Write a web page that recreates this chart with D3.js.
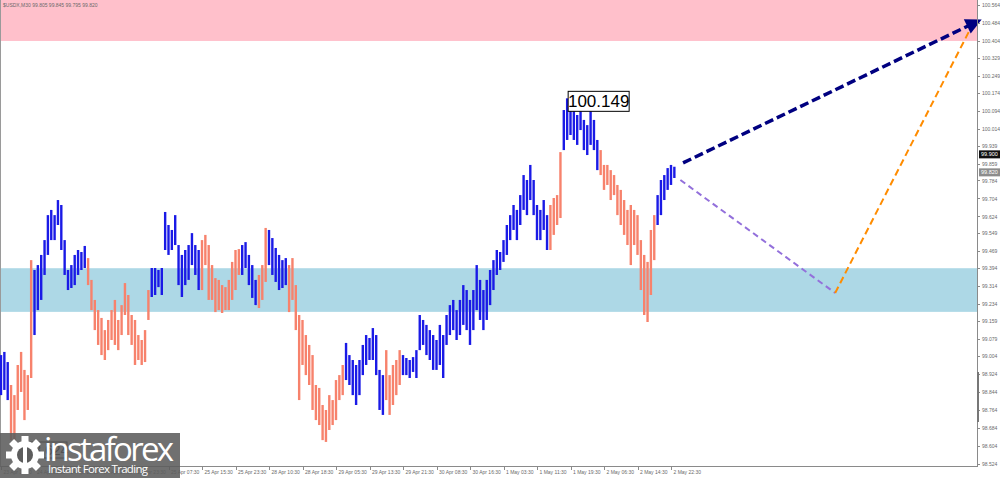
<!DOCTYPE html>
<meta charset="utf-8">
<style>
body { margin: 0; background: #fff; }
svg { display: block; font-family: "Liberation Sans", Arial, sans-serif; }
.axis path, .axis line { stroke: #8a8a8a; shape-rendering: crispEdges; }
.axis text { fill: #6a6a6a; font-size: 5px; }
</style>
<body>
<script src="https://d3js.org/d3.v7.min.js"></script>
<script>

// bar highs / lows (M30 bars)
var highs = [
  99.008, 99.022, 98.977, 98.875, 98.830, 98.964, 99.022, 98.942, 98.919, 99.430,
  99.386, 99.408, 99.453, 99.519, 99.630, 99.653, 99.630, 99.697, 99.675, 99.519,
  99.386, 99.408, 99.453, 99.475, 99.466, 99.493, 99.439, 99.342, 99.253, 99.208,
  99.173, 99.119, 99.164, 99.208, 99.253, 99.164, 99.230, 99.328, 99.275, 99.186,
  99.164, 99.097, 99.075, 99.119, 99.297, 99.395, 99.395, 99.386, 99.395, 99.644,
  99.586, 99.564, 99.630, 99.497, 99.453, 99.475, 99.497, 99.550, 99.497, 99.475,
  99.519, 99.542, 99.497, 99.408, 99.350, 99.342, 99.319, 99.310, 99.342, 99.422,
  99.475, 99.479, 99.497, 99.510, 99.453, 99.408, 99.342, 99.364, 99.408, 99.573,
  99.564, 99.528, 99.484, 99.453, 99.430, 99.439, 99.408, 99.439, 99.319, 99.186,
  99.164, 99.097, 99.053, 99.008, 98.875, 98.862, 98.786, 98.764, 98.830, 98.808,
  98.897, 98.919, 98.964, 99.062, 99.008, 98.986, 98.964, 98.986, 99.053, 99.097,
  99.084, 99.128, 99.097, 98.942, 98.919, 99.030, 98.919, 98.964, 98.986, 99.030,
  99.008, 98.995, 98.986, 98.999, 99.030, 99.186, 99.164, 99.142, 99.119, 99.097,
  99.075, 99.142, 99.097, 99.186, 99.230, 99.253, 99.208, 99.253, 99.319, 99.297,
  99.253, 99.297, 99.408, 99.342, 99.297, 99.342, 99.386, 99.430, 99.475, 99.466,
  99.519, 99.586, 99.630, 99.675, 99.653, 99.719, 99.808, 99.786, 99.853, 99.786,
  99.675, 99.653, 99.697, 99.630, 99.675, 99.706, 99.719, 99.910, 100.097, 100.149,
  100.097, 100.119, 100.075, 100.097, 100.053, 100.030, 100.119, 100.053, 99.964, 99.919,
  99.853, 99.853, 99.830, 99.808, 99.764, 99.742, 99.697, 99.653, 99.675, 99.653,
  99.630, 99.519, 99.453, 99.422, 99.564, 99.630, 99.719, 99.786, 99.808, 99.839,
  99.853, 99.845
];
var lows = [
  98.830, 98.853, 98.808, 98.630, 98.608, 98.764, 98.844, 98.719, 98.764, 98.906,
  99.097, 99.208, 99.253, 99.364, 99.453, 99.519, 99.519, 99.586, 99.475, 99.364,
  99.297, 99.306, 99.319, 99.364, 99.386, 99.395, 99.319, 99.208, 99.119, 99.053,
  99.008, 98.986, 99.030, 99.075, 99.053, 99.030, 99.097, 99.186, 99.097, 99.053,
  98.964, 98.986, 98.964, 98.977, 99.164, 99.266, 99.275, 99.310, 99.275, 99.475,
  99.453, 99.475, 99.497, 99.319, 99.266, 99.319, 99.342, 99.408, 99.364, 99.297,
  99.297, 99.408, 99.253, 99.253, 99.199, 99.208, 99.195, 99.208, 99.208, 99.253,
  99.297, 99.364, 99.364, 99.395, 99.319, 99.262, 99.230, 99.217, 99.253, 99.333,
  99.408, 99.364, 99.333, 99.297, 99.306, 99.319, 99.199, 99.253, 99.119, 98.808,
  98.964, 98.919, 98.875, 98.764, 98.719, 98.697, 98.630, 98.622, 98.675, 98.697,
  98.719, 98.808, 98.830, 98.897, 98.875, 98.830, 98.786, 98.830, 98.919, 98.964,
  98.986, 98.986, 98.919, 98.764, 98.742, 98.808, 98.742, 98.786, 98.830, 98.875,
  98.919, 98.919, 98.906, 98.933, 98.906, 99.030, 99.053, 99.008, 98.986, 98.942,
  98.942, 98.964, 98.906, 99.053, 99.097, 99.119, 99.075, 99.097, 99.142, 99.119,
  99.053, 99.119, 99.208, 99.164, 99.119, 99.164, 99.230, 99.297, 99.364, 99.386,
  99.422, 99.453, 99.519, 99.564, 99.519, 99.586, 99.653, 99.630, 99.697, 99.630,
  99.519, 99.519, 99.564, 99.475, 99.475, 99.542, 99.586, 99.617, 99.919, 99.964,
  99.986, 99.964, 99.942, 100.008, 99.919, 99.897, 99.942, 99.919, 99.830, 99.808,
  99.742, 99.764, 99.697, 99.719, 99.630, 99.586, 99.542, 99.497, 99.408, 99.497,
  99.453, 99.297, 99.186, 99.155, 99.275, 99.430, 99.586, 99.630, 99.697, 99.742,
  99.764, 99.795
];

// bar index ranges of the falling waves (drawn salmon), the rest are blue
var downWaves = [[3, 9], [26, 44], [60, 71], [77, 79], [86, 102], [115, 119], [164, 167], [179, 195]];

// time axis, one label every 10 bars
var timeLabels = ["23 Apr 19:30", "24 Apr 03:30", "24 Apr 11:30", "24 Apr 19:30", "24 Apr 23:30",
  "25 Apr 07:30", "25 Apr 15:30", "25 Apr 23:30", "28 Apr 10:30", "28 Apr 18:30",
  "29 Apr 05:30", "29 Apr 13:30", "29 Apr 21:30", "30 Apr 08:30", "30 Apr 16:30",
  "1 May 03:30", "1 May 11:30", "1 May 19:30", "2 May 06:30", "2 May 14:30", "2 May 22:30"];

var priceTicks = [100.564, 100.484, 100.404, 100.329, 100.249, 100.174, 100.094, 100.014, 99.939,
  99.859, 99.784, 99.704, 99.624, 99.549, 99.469, 99.394, 99.314, 99.234, 99.159, 99.079,
  99.004, 98.924, 98.844, 98.764, 98.684, 98.604, 98.524];

var resistanceZone = [100.404, 100.586];
var supportZone = [99.200, 99.394];
var peakIndex = 169, peakValue = 100.149;
var lastPrice = 99.820, askPrice = 99.900;
var ohlc = ["99.805", "99.845", "99.795", "99.820"];

// forecast paths: [bar index, price]
var mainForecast = [[203.6, 99.862], [289.3, 100.475]];
var pullback = [[202.8, 99.786], [249.0, 99.284]];
var rebound = [[249.0, 99.284], [289.6, 100.465]];

var W = 1000, H = 478, plotR = 977, plotB = 466;

var svg = d3.select("body").append("svg")
    .attr("width", W)
    .attr("height", H);

var x = d3.scaleLinear().domain([0, 10]).range([1, 34.5]);
var y = d3.scaleLinear().domain([98.515, 100.586]).range([plotB, 0]);

// zones
svg.append("rect")
    .attr("x", 0).attr("width", plotR)
    .attr("y", y(resistanceZone[1])).attr("height", y(resistanceZone[0]) - y(resistanceZone[1]))
    .attr("fill", "#ffc0cb");
svg.append("rect")
    .attr("x", 0).attr("width", plotR)
    .attr("y", y(supportZone[1])).attr("height", y(supportZone[0]) - y(supportZone[1]))
    .attr("fill", "#add8e6");

// left border of the chart window
svg.append("line").attr("x1", 0.5).attr("x2", 0.5).attr("y1", 0).attr("y2", plotB)
    .attr("stroke", "#9a9a9a");

function isDown(i) {
  return downWaves.some(function(r) { return i >= r[0] && i <= r[1]; });
}

// bars
svg.append("g").selectAll("line")
    .data(highs)
  .enter().append("line")
    .attr("x1", function(d, i) { return x(i); })
    .attr("x2", function(d, i) { return x(i); })
    .attr("y1", function(d) { return y(d); })
    .attr("y2", function(d, i) { return y(lows[i]); })
    .attr("stroke", function(d, i) { return isDown(i) ? "#f7826c" : "#1a1ae6"; })
    .attr("stroke-width", 2.4);

// forecast lines
var defs = svg.append("defs");
defs.append("marker")
    .attr("id", "arrow")
    .attr("markerUnits", "userSpaceOnUse")
    .attr("viewBox", "0 0 10 10")
    .attr("refX", 2).attr("refY", 5)
    .attr("markerWidth", 18).attr("markerHeight", 16)
    .attr("orient", "auto")
  .append("path")
    .attr("d", "M0,0 L10,5 L0,10 Z")
    .attr("fill", "#000080");

var line = d3.line()
    .x(function(d) { return x(d[0]); })
    .y(function(d) { return y(d[1]); });

svg.append("path").datum(pullback)
    .attr("d", line)
    .attr("fill", "none").attr("stroke", "#9370db")
    .attr("stroke-width", 2).attr("stroke-dasharray", "6,4");
svg.append("path").datum(rebound)
    .attr("d", line)
    .attr("fill", "none").attr("stroke", "#ff8c00")
    .attr("stroke-width", 2).attr("stroke-dasharray", "7,4");
svg.append("path").datum(mainForecast)
    .attr("d", line)
    .attr("fill", "none").attr("stroke", "#000080")
    .attr("stroke-width", 3.5).attr("stroke-dasharray", "9,4")
    .attr("marker-end", "url(#arrow)");

// peak label
var peakG = svg.append("g")
    .attr("transform", "translate(" + (x(peakIndex) + 1) + "," + (y(peakValue) - 7) + ")");
peakG.append("rect")
    .attr("x", 0).attr("y", 0).attr("width", 61).attr("height", 20)
    .attr("fill", "#fff").attr("stroke", "#000").attr("stroke-width", 1);
peakG.append("text")
    .attr("x", 30.5).attr("y", 16)
    .attr("text-anchor", "middle")
    .style("font-size", "17px")
    .text(peakValue.toFixed(3));

// axes
var yAxis = svg.append("g")
    .attr("class", "axis")
    .attr("transform", "translate(" + plotR + ",0)")
    .call(d3.axisRight(y).tickValues(priceTicks).tickSize(3).tickPadding(2)
      .tickFormat(d3.format(".3f")));
yAxis.select(".domain").attr("d", "M0.5,0V" + plotB);

var xAxis = svg.append("g")
    .attr("class", "axis")
    .attr("transform", "translate(0," + plotB + ")")
    .call(d3.axisBottom(x).tickValues(d3.range(0, timeLabels.length * 10, 10)).tickSize(4)
      .tickFormat(function(d, i) { return timeLabels[i]; }));
xAxis.select(".domain").attr("d", "M0,0.5H" + (plotR + 1));
xAxis.selectAll("text").attr("text-anchor", "start").attr("dx", 2).attr("y", 4);

// marker on the price scale
svg.append("rect").attr("x", plotR).attr("y", 372).attr("width", 2).attr("height", 50).attr("fill", "#777");

// price boxes on the right scale
[[askPrice, "#111"], [lastPrice, "#8c8c8c"]].forEach(function(p) {
  svg.append("rect")
      .attr("x", plotR + 2).attr("y", y(p[0]) - 4).attr("width", 21).attr("height", 8)
      .attr("fill", p[1]);
  svg.append("text")
      .attr("x", plotR + 4).attr("y", y(p[0]) + 2)
      .attr("fill", "#fff").style("font-size", "5.5px")
      .text(p[0].toFixed(3));
});

// title
svg.append("text")
    .attr("x", 3).attr("y", 7)
    .attr("fill", "#6a6a6a").style("font-size", "5px")
    .text("$USDX,M30  " + ohlc.join(" "));

// low label partly hidden under the logo
svg.append("rect").attr("x", 27).attr("y", 442).attr("width", 40).attr("height", 16)
    .attr("fill", "#fff").attr("stroke", "#000");
svg.append("text").attr("x", 47).attr("y", 455).attr("text-anchor", "middle")
    .style("font-size", "14px").text("98.624");

// logo
var logo = svg.append("g").attr("transform", "translate(0,433)");
logo.append("rect").attr("width", 180).attr("height", 45).attr("fill", "#5c5c5c").attr("opacity", 0.88);
var gear = logo.append("g").attr("transform", "translate(25,22)");
d3.range(8).forEach(function(k) {
  gear.append("rect")
      .attr("x", -3.5).attr("y", -19).attr("width", 7).attr("height", 8)
      .attr("fill", "#fff")
      .attr("transform", "rotate(" + (k * 45) + ")");
});
gear.append("circle").attr("r", 14).attr("fill", "#fff");
gear.append("circle").attr("r", 8).attr("fill", "#5c5c5c");
gear.append("rect").attr("x", -2).attr("y", -8).attr("width", 4).attr("height", 20).attr("fill", "#fff");
logo.append("text")
    .attr("x", 44).attr("y", 28)
    .attr("fill", "#fff")
    .attr("textLength", 130)
    .style("font-family", "'Open Sans', sans-serif")
    .style("font-size", "33px")
    .text("instaforex");
logo.append("text")
    .attr("x", 48).attr("y", 40)
    .attr("fill", "#fff")
    .attr("textLength", 100)
    .style("font-family", "'Open Sans', sans-serif")
    .style("font-size", "11.5px")
    .text("Instant Forex Trading");

</script>
</body>
